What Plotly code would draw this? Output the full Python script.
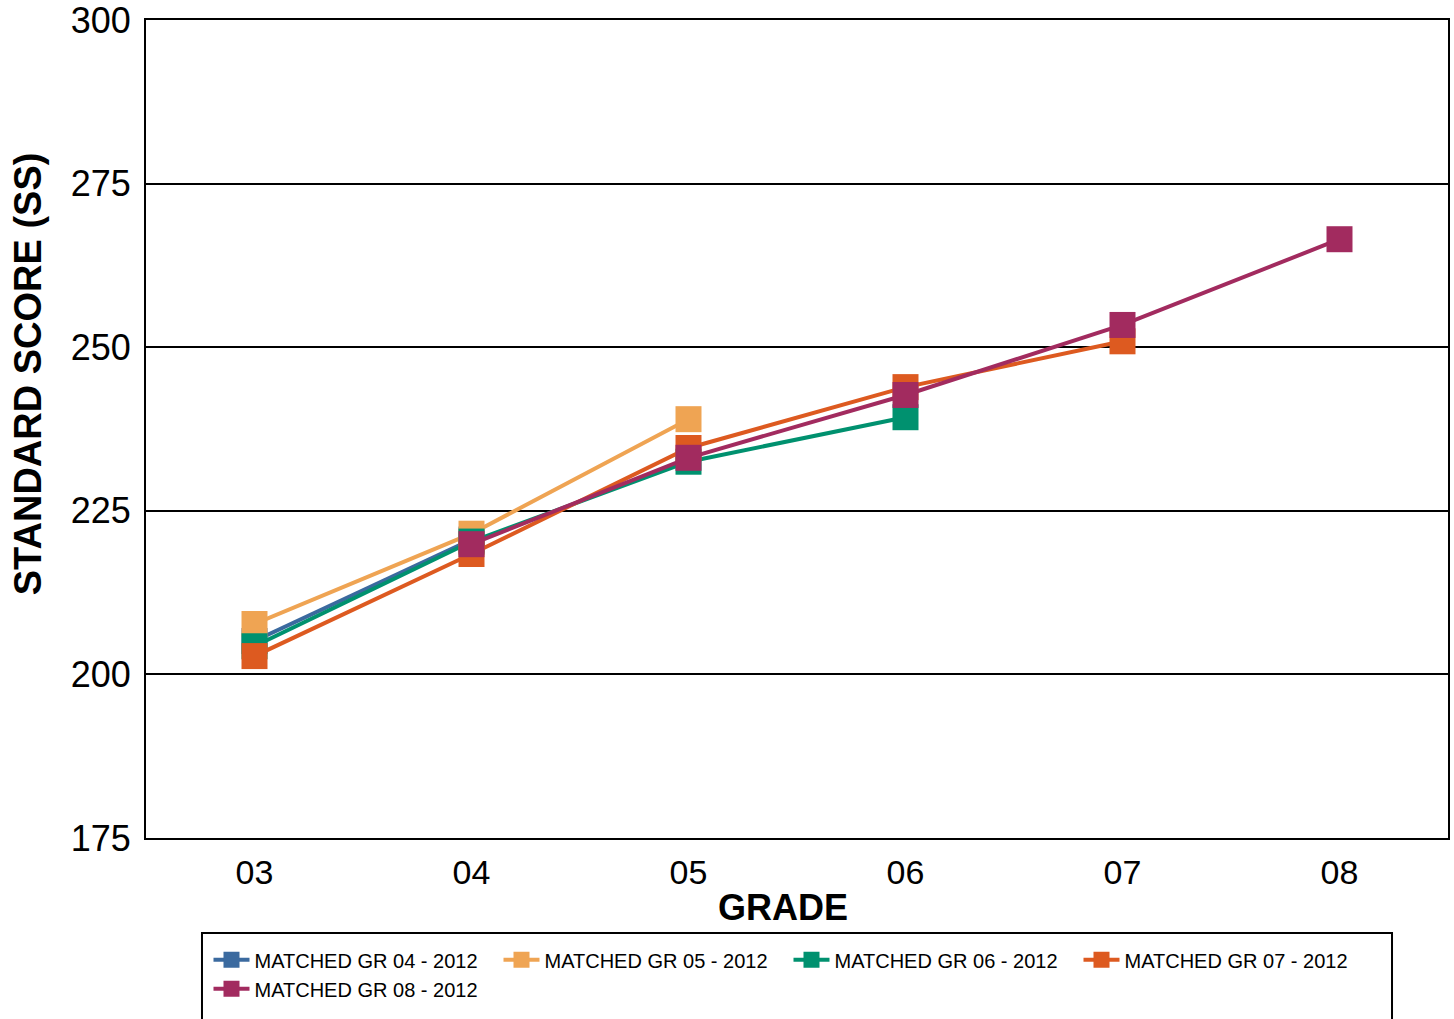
import plotly.graph_objects as go

grades = ["03", "04", "05", "06", "07", "08"]
series_names = ["MATCHED GR 04 - 2012", "MATCHED GR 05 - 2012", "MATCHED GR 06 - 2012",
                "MATCHED GR 07 - 2012", "MATCHED GR 08 - 2012"]
gr04 = [205.1, 220.6, None, None, None, None]
gr05 = [207.7, 221.5, 239.0, None, None, None]
gr06 = [204.3, 220.3, 232.5, 239.3, None, None]
gr07 = [202.8, 218.4, 234.6, 243.9, 250.9, None]
gr08 = [None, 219.9, 233.1, 242.7, 253.4, 266.5]
colors = ["#3B6A9F", "#EFA453", "#00916F", "#DD5A20", "#A22B5F"]
yticks = [175, 200, 225, 250, 275, 300]

fig = go.Figure()
for name, vals, c in zip(series_names, [gr04, gr05, gr06, gr07, gr08], colors):
    xs = [g for g, v in zip(grades, vals) if v is not None]
    ys = [v for v in vals if v is not None]
    fig.add_trace(go.Scatter(x=xs, y=ys, name=name, mode="lines+markers",
                             line=dict(color=c, width=4),
                             marker=dict(symbol="square", size=26, color=c)))

fig.update_layout(
    width=1454, height=1019,
    margin=dict(l=146, r=6, t=20, b=181, autoexpand=False),
    paper_bgcolor="white", plot_bgcolor="white",
    font=dict(family="Liberation Sans, Arial, sans-serif", color="black"),
    xaxis=dict(type="category", categoryorder="array", categoryarray=grades,
               range=[-0.5, 5.5], showgrid=False, showline=True, linecolor="black",
               linewidth=2, mirror=True, ticks="", tickfont=dict(size=34),
               automargin=False, ticklabelstandoff=3),
    yaxis=dict(range=[175, 300], tickvals=yticks, showgrid=True, gridcolor="black",
               gridwidth=1.5, showline=True, linecolor="black", linewidth=2, mirror=True,
               ticks="", tickfont=dict(size=36), zeroline=False, automargin=False,
               ticklabeloverflow="allow", ticklabelstandoff=6),
    legend=dict(orientation="h", x=0.048, y=-0.125, xanchor="left", yanchor="top",
                entrywidth=239, entrywidthmode="pixels", font=dict(size=20),
                itemwidth=36, tracegroupgap=0, bgcolor="rgba(0,0,0,0)"),
    showlegend=True,
    annotations=[
        dict(text="<b>STANDARD SCORE (SS)</b>", textangle=-90, xref="paper", yref="paper",
             x=-0.0906, y=0.567, xanchor="center", yanchor="middle", showarrow=False,
             font=dict(size=38)),
        dict(text="<b>GRADE</b>", xref="paper", yref="paper",
             x=0.489, y=-0.085, xanchor="center", yanchor="middle", showarrow=False,
             font=dict(size=36)),
    ],
    shapes=[dict(type="rect", xref="paper", yref="paper", x0=0.043, x1=0.957,
                 y0=-0.116, y1=-0.3, line=dict(color="black", width=2), layer="below")],
)
fig.write_html("out.html", config={"displayModeBar": False},
               post_script="document.body.style.margin='0px';")
